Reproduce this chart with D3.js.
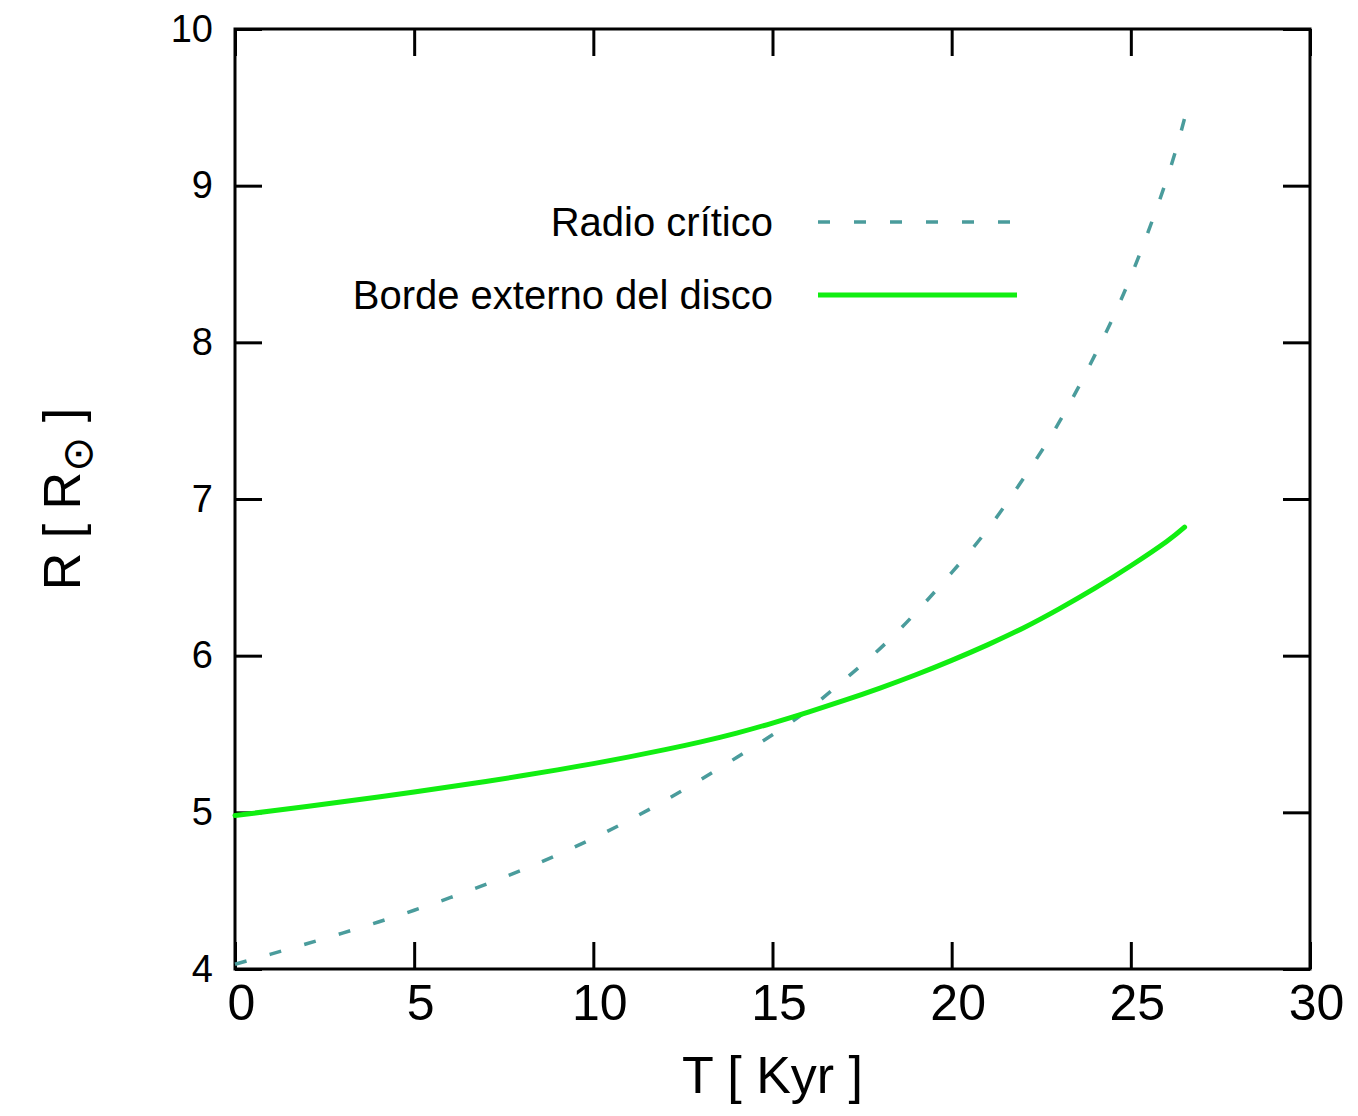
<!DOCTYPE html>
<html>
<head>
<meta charset="utf-8">
<script src="https://cdn.jsdelivr.net/npm/d3@7"></script>
<style>
  html, body { margin: 0; padding: 0; background: #fff; }
  svg { display: block; }
  text { font-family: "Liberation Sans", Arial, Helvetica, sans-serif; fill: #000; }
</style>
</head>
<body>
<svg id="chart" width="1358" height="1116"></svg>
<script>
// Time in thousands of years
const timeKyr = [0, 1, 2, 3, 4, 5, 6, 7, 8, 9, 10, 11, 12, 13, 14, 15, 16, 17, 18, 19, 20, 21, 22, 23, 24, 25, 26, 26.5];
// Critical radius (solar radii)
const criticalRadius = [4.03, 4.095, 4.161, 4.229, 4.300, 4.375, 4.455, 4.540, 4.631, 4.729, 4.835, 4.950, 5.075, 5.210, 5.350, 5.495, 5.655, 5.845, 6.045, 6.275, 6.530, 6.805, 7.130, 7.490, 7.920, 8.420, 9.040, 9.43];
// Outer edge of the disc (solar radii)
const discEdge = [4.98, 5.008, 5.037, 5.067, 5.098, 5.130, 5.163, 5.197, 5.233, 5.271, 5.311, 5.354, 5.400, 5.450, 5.506, 5.570, 5.640, 5.714, 5.793, 5.878, 5.970, 6.069, 6.177, 6.299, 6.431, 6.574, 6.729, 6.82];

const xTicks = [0, 5, 10, 15, 20, 25, 30];
const yTicks = [4, 5, 6, 7, 8, 9, 10];
const seriesNames = ["Radio crítico", "Borde externo del disco"];

const svg = d3.select("#chart");
svg.append("rect").attr("width", 1358).attr("height", 1116).attr("fill", "#fff");

const plotLeft = 235, plotRight = 1310, plotTop = 29, plotBottom = 969;
const x = d3.scaleLinear().domain([0, 30]).range([plotLeft, plotRight]);
const y = d3.scaleLinear().domain([4, 10]).range([plotBottom, plotTop]);
const tickLen = 27;

// Bottom axis with labels
const gB = svg.append("g").attr("transform", `translate(0,${plotBottom})`)
  .call(d3.axisBottom(x).tickValues(xTicks).tickFormat(d3.format("d"))
    .tickSizeInner(-tickLen).tickSizeOuter(0).tickPadding(15));
gB.selectAll("text").attr("font-size", 50).attr("dx", 6);

// Top axis (ticks only)
svg.append("g").attr("transform", `translate(0,${plotTop})`)
  .call(d3.axisTop(x).tickValues(xTicks).tickFormat("")
    .tickSizeInner(-tickLen).tickSizeOuter(0));

// Left axis with labels
const gL = svg.append("g").attr("transform", `translate(${plotLeft},0)`)
  .call(d3.axisLeft(y).tickValues(yTicks).tickFormat(d3.format("d"))
    .tickSizeInner(-tickLen).tickSizeOuter(0).tickPadding(22));
gL.selectAll("text").attr("font-size", 38);

// Right axis (ticks only)
svg.append("g").attr("transform", `translate(${plotRight},0)`)
  .call(d3.axisRight(y).tickValues(yTicks).tickFormat("")
    .tickSizeInner(-tickLen).tickSizeOuter(0));

svg.selectAll(".domain").remove();
svg.selectAll(".tick line").attr("stroke", "#000").attr("stroke-width", 3);
svg.selectAll(".tick text").attr("font-family", "'Liberation Sans', Arial, sans-serif");

// Plot frame
svg.append("rect")
  .attr("x", plotLeft).attr("y", plotTop)
  .attr("width", plotRight - plotLeft).attr("height", plotBottom - plotTop)
  .attr("fill", "none").attr("stroke", "#000").attr("stroke-width", 3);

// Curves
const line = d3.line().curve(d3.curveNatural);
const critPts = timeKyr.map((t, i) => [x(t), y(criticalRadius[i])]);
const discPts = timeKyr.map((t, i) => [x(t), y(discEdge[i])]);

const critColor = "#4a9c9c";
const discColor = "#11ee11";

svg.append("path").attr("d", line(critPts))
  .attr("fill", "none").attr("stroke", critColor)
  .attr("stroke-width", 3.5).attr("stroke-dasharray", "12,24");

svg.append("path").attr("d", line(discPts))
  .attr("fill", "none").attr("stroke", discColor)
  .attr("stroke-width", 5).attr("stroke-linecap", "round");

// Legend
const legend = svg.append("g");
const rows = [
  { name: seriesNames[0], yPos: 222, color: critColor, dash: "12,24", width: 3.5 },
  { name: seriesNames[1], yPos: 295, color: discColor, dash: null, width: 5 }
];
rows.forEach(r => {
  legend.append("text")
    .attr("x", 773).attr("y", r.yPos + 14)
    .attr("text-anchor", "end").attr("font-size", 40)
    .text(r.name);
  legend.append("line")
    .attr("x1", 818).attr("x2", 1017)
    .attr("y1", r.yPos).attr("y2", r.yPos)
    .attr("stroke", r.color).attr("stroke-width", r.width)
    .attr("stroke-dasharray", r.dash);
});

// Axis titles
svg.append("text")
  .attr("x", (plotLeft + plotRight) / 2).attr("y", 1093)
  .attr("text-anchor", "middle").attr("font-size", 52)
  .text("T [ Kyr ]");

const yTitle = svg.append("text")
  .attr("transform", `translate(80,${(plotTop + plotBottom) / 2}) rotate(-90)`)
  .attr("text-anchor", "middle").attr("font-size", 52);
yTitle.append("tspan").text("R [ R");
yTitle.append("tspan").attr("font-family", "'DejaVu Sans', sans-serif")
  .attr("font-size", 42).attr("dy", 12).text("⊙");
yTitle.append("tspan").attr("dy", -12).text(" ]");
</script>
</body>
</html>
